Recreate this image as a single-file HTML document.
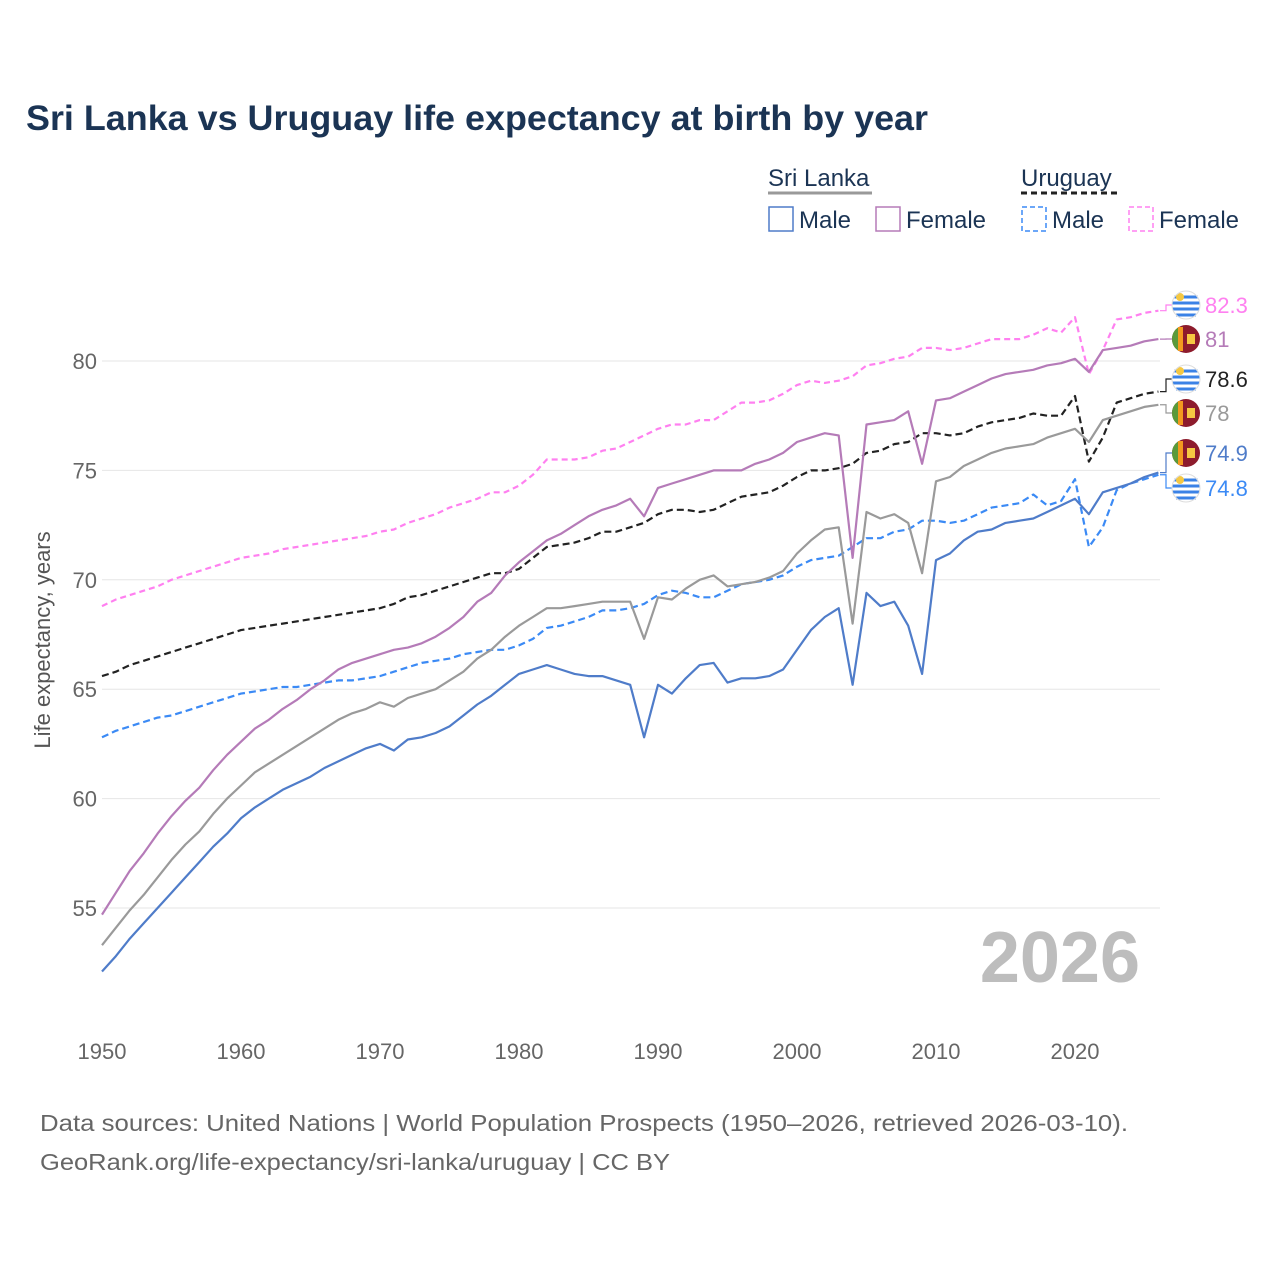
<!DOCTYPE html>
<html><head><meta charset="utf-8">
<style>
body{margin:0;background:#fff;font-family:"Liberation Sans",sans-serif;}
svg text{font-family:"Liberation Sans",sans-serif;}
</style></head>
<body>
<svg id="chart" width="1280" height="1280" viewBox="0 0 1280 1280" xmlns="http://www.w3.org/2000/svg">
<rect width="1280" height="1280" fill="#fff"/>
<text x="26" y="130" font-size="35" font-weight="bold" fill="#1b3454" textLength="902" lengthAdjust="spacingAndGlyphs">Sri Lanka vs Uruguay life expectancy at birth by year</text>
<g>
 <text x="768" y="186" font-size="24" fill="#1b3454">Sri Lanka</text>
 <line x1="768" y1="193" x2="872" y2="193" stroke="#999" stroke-width="3"/>
 <text x="1021" y="186" font-size="24" fill="#1b3454">Uruguay</text>
 <line x1="1021" y1="193" x2="1119" y2="193" stroke="#222" stroke-width="3" stroke-dasharray="6,4"/>
 <g><rect x="769" y="207" width="24" height="24" fill="none" stroke="#4f7cc9" stroke-width="1.5"/><text x="799" y="228" font-size="24" fill="#1b3454">Male</text></g>
 <g><rect x="876" y="207" width="24" height="24" fill="none" stroke="#b57bb8" stroke-width="1.5"/><text x="906" y="228" font-size="24" fill="#1b3454">Female</text></g>
 <g><rect x="1022" y="207" width="24" height="24" fill="none" stroke="#3b8af5" stroke-width="1.5" stroke-dasharray="5,3"/><text x="1052" y="228" font-size="24" fill="#1b3454">Male</text></g>
 <g><rect x="1129" y="207" width="24" height="24" fill="none" stroke="#ff80f0" stroke-width="1.5" stroke-dasharray="5,3"/><text x="1159" y="228" font-size="24" fill="#1b3454">Female</text></g>
</g>
<g id="grid"></g>
<text x="1140" y="982" font-size="72" font-weight="bold" fill="#bdbdbd" text-anchor="end">2026</text>
<g id="series"></g>
<g id="endlabels"></g>
<text transform="translate(50,640) rotate(-90)" font-size="22" fill="#555" text-anchor="middle">Life expectancy, years</text>
<text x="40" y="1131" font-size="23" fill="#666" textLength="1088" lengthAdjust="spacingAndGlyphs">Data sources: United Nations | World Population Prospects (1950–2026, retrieved 2026-03-10).</text>
<text x="40" y="1170" font-size="23" fill="#666" textLength="630" lengthAdjust="spacingAndGlyphs">GeoRank.org/life-expectancy/sri-lanka/uruguay | CC BY</text>
</svg>
<script>
const years=[];for(let y=1950;y<=2026;y++)years.push(y);
const lkMale=[52.1,52.8,53.6,54.3,55.0,55.7,56.4,57.1,57.8,58.4,59.1,59.6,60.0,60.4,60.7,61.0,61.4,61.7,62.0,62.3,62.5,62.2,62.7,62.8,63.0,63.3,63.8,64.3,64.7,65.2,65.7,65.9,66.1,65.9,65.7,65.6,65.6,65.4,65.2,62.8,65.2,64.8,65.5,66.1,66.2,65.3,65.5,65.5,65.6,65.9,66.8,67.7,68.3,68.7,65.2,69.4,68.8,69.0,67.9,65.7,70.9,71.2,71.8,72.2,72.3,72.6,72.7,72.8,73.1,73.4,73.7,73.0,74.0,74.2,74.4,74.7,74.9];
const lkFemale=[54.7,55.7,56.7,57.5,58.4,59.2,59.9,60.5,61.3,62.0,62.6,63.2,63.6,64.1,64.5,65.0,65.4,65.9,66.2,66.4,66.6,66.8,66.9,67.1,67.4,67.8,68.3,69.0,69.4,70.2,70.8,71.3,71.8,72.1,72.5,72.9,73.2,73.4,73.7,72.9,74.2,74.4,74.6,74.8,75.0,75.0,75.0,75.3,75.5,75.8,76.3,76.5,76.7,76.6,71.0,77.1,77.2,77.3,77.7,75.3,78.2,78.3,78.6,78.9,79.2,79.4,79.5,79.6,79.8,79.9,80.1,79.5,80.5,80.6,80.7,80.9,81.0];
const lkTotal=[53.3,54.1,54.9,55.6,56.4,57.2,57.9,58.5,59.3,60.0,60.6,61.2,61.6,62.0,62.4,62.8,63.2,63.6,63.9,64.1,64.4,64.2,64.6,64.8,65.0,65.4,65.8,66.4,66.8,67.4,67.9,68.3,68.7,68.7,68.8,68.9,69.0,69.0,69.0,67.3,69.2,69.1,69.6,70.0,70.2,69.7,69.8,69.9,70.1,70.4,71.2,71.8,72.3,72.4,68.0,73.1,72.8,73.0,72.6,70.3,74.5,74.7,75.2,75.5,75.8,76.0,76.1,76.2,76.5,76.7,76.9,76.3,77.3,77.5,77.7,77.9,78.0];
const uyMale=[62.8,63.1,63.3,63.5,63.7,63.8,64.0,64.2,64.4,64.6,64.8,64.9,65.0,65.1,65.1,65.2,65.3,65.4,65.4,65.5,65.6,65.8,66.0,66.2,66.3,66.4,66.6,66.7,66.8,66.8,67.0,67.3,67.8,67.9,68.1,68.3,68.6,68.6,68.7,68.9,69.3,69.5,69.4,69.2,69.2,69.5,69.8,69.9,70.0,70.2,70.6,70.9,71.0,71.1,71.5,71.9,71.9,72.2,72.3,72.7,72.7,72.6,72.7,73.0,73.3,73.4,73.5,73.9,73.4,73.6,74.6,71.5,72.4,74.1,74.4,74.6,74.8];
const uyFemale=[68.8,69.1,69.3,69.5,69.7,70.0,70.2,70.4,70.6,70.8,71.0,71.1,71.2,71.4,71.5,71.6,71.7,71.8,71.9,72.0,72.2,72.3,72.6,72.8,73.0,73.3,73.5,73.7,74.0,74.0,74.3,74.8,75.5,75.5,75.5,75.6,75.9,76.0,76.3,76.6,76.9,77.1,77.1,77.3,77.3,77.7,78.1,78.1,78.2,78.5,78.9,79.1,79.0,79.1,79.3,79.8,79.9,80.1,80.2,80.6,80.6,80.5,80.6,80.8,81.0,81.0,81.0,81.2,81.5,81.3,82.0,79.4,80.5,81.9,82.0,82.2,82.3];
const uyTotal=[65.6,65.8,66.1,66.3,66.5,66.7,66.9,67.1,67.3,67.5,67.7,67.8,67.9,68.0,68.1,68.2,68.3,68.4,68.5,68.6,68.7,68.9,69.2,69.3,69.5,69.7,69.9,70.1,70.3,70.3,70.5,71.0,71.5,71.6,71.7,71.9,72.2,72.2,72.4,72.6,73.0,73.2,73.2,73.1,73.2,73.5,73.8,73.9,74.0,74.3,74.7,75.0,75.0,75.1,75.3,75.8,75.9,76.2,76.3,76.7,76.7,76.6,76.7,77.0,77.2,77.3,77.4,77.6,77.5,77.5,78.4,75.4,76.5,78.1,78.3,78.5,78.6];
const yTicks=[55,60,65,70,75,80];
const xTicks=[1950,1960,1970,1980,1990,2000,2010,2020];

const NS="http://www.w3.org/2000/svg";
const xs=yr=>102+(yr-1950)*(973/70);
const ys=v=>361-(v-80)*21.88;
function mk(tag,attrs,parent){const e=document.createElementNS(NS,tag);for(const k in attrs)e.setAttribute(k,attrs[k]);parent.appendChild(e);return e;}
const grid=document.getElementById('grid');
yTicks.forEach(t=>{
  const l=mk('line',{x1:102,x2:1160,y1:ys(t),y2:ys(t),stroke:'#e6e6e6','stroke-width':1},grid);
  
  
  const tx=mk('text',{x:97,y:ys(t)+8,'font-size':22,fill:'#666','text-anchor':'end'},grid);
  tx.textContent=t;
  
  
});
xTicks.forEach(t=>{
  const tx=mk('text',{x:xs(t),y:1059,'font-size':22,fill:'#666','text-anchor':'middle'},grid);
  tx.textContent=t;
  
  
});
const series=[
 {d:uyFemale,c:'#ff80f0',dash:'6,4',n:'uruguay-female'},
 {d:uyTotal,c:'#222',dash:'7,4',n:'uruguay-total'},
 {d:uyMale,c:'#3b8af5',dash:'7,4',n:'uruguay-male'},
 {d:lkTotal,c:'#9a9a9a',dash:'',n:'sri-lanka-total'},
 {d:lkFemale,c:'#b57bb8',dash:'',n:'sri-lanka-female'},
 {d:lkMale,c:'#4f7cc9',dash:'',n:'sri-lanka-male'}
];
const sg=document.getElementById('series');
series.forEach(s=>{
  const pts=s.d.map((v,i)=>xs(years[i]).toFixed(1)+','+ys(v).toFixed(1)).join(' ');
  const p=mk('polyline',{points:pts,fill:'none',stroke:s.c,'stroke-width':2.2,'stroke-linejoin':'round'},sg);
  if(s.dash)p.setAttribute('stroke-dasharray',s.dash);
  
  
});
const eg=document.getElementById('endlabels');
const labs=[
 {v:uyFemale,c:'#ff80f0',ly:305,flag:'uy',n:'uruguay-female'},
 {v:lkFemale,c:'#b57bb8',ly:339,flag:'lk',n:'sri-lanka-female'},
 {v:uyTotal,c:'#222',ly:379,flag:'uy',n:'uruguay-total'},
 {v:lkTotal,c:'#9a9a9a',ly:413,flag:'lk',n:'sri-lanka-total'},
 {v:lkMale,c:'#4f7cc9',ly:453,flag:'lk',n:'sri-lanka-male'},
 {v:uyMale,c:'#3b8af5',ly:488,flag:'uy',n:'uruguay-male'}
];
labs.forEach(L=>{
  const val=L.v[L.v.length-1];
  const y0=ys(val);
  const g=mk('g',{},eg);
  
  
  mk('polyline',{points:`1160,${y0} 1166,${y0} 1166,${L.ly} 1172,${L.ly}`,fill:'none',stroke:L.c,'stroke-width':1.2},g);
  const cx=1186,cy=L.ly,r=14;
  if(L.flag==='uy'){
    mk('circle',{cx,cy,r,fill:'#fff'},g);
    [-8,-2,4,10].forEach(o=>{if(Math.abs(o)<r)mk('rect',{x:cx-Math.sqrt(r*r-o*o),y:cy+o-1.5,width:2*Math.sqrt(r*r-o*o),height:3,fill:'#3b82e6'},g);});
    mk('circle',{cx:cx-6,cy:cy-8,r:4,fill:'#f5c842'},g);
    mk('circle',{cx,cy,r,fill:'none',stroke:'#ddd','stroke-width':1},g);
  }else{
    mk('circle',{cx,cy,r,fill:'#8d1b2c'},g);
    mk('path',{d:`M${cx-14},${cy} A14,14 0 0,1 ${cx-8},${cy-11.5} L${cx-8},${cy+11.5} A14,14 0 0,1 ${cx-14},${cy}Z`,fill:'#5a9a3a'},g);
    mk('rect',{x:cx-8,y:cy-12,width:5,height:24,fill:'#f39a1f'},g);
    mk('rect',{x:cx+1,y:cy-5,width:8,height:10,fill:'#f5c842'},g);
  }
  const t=mk('text',{x:1205,y:L.ly+8,'font-size':22,fill:L.c},g);
  t.textContent=String(val);
});
</script>
</body></html>
